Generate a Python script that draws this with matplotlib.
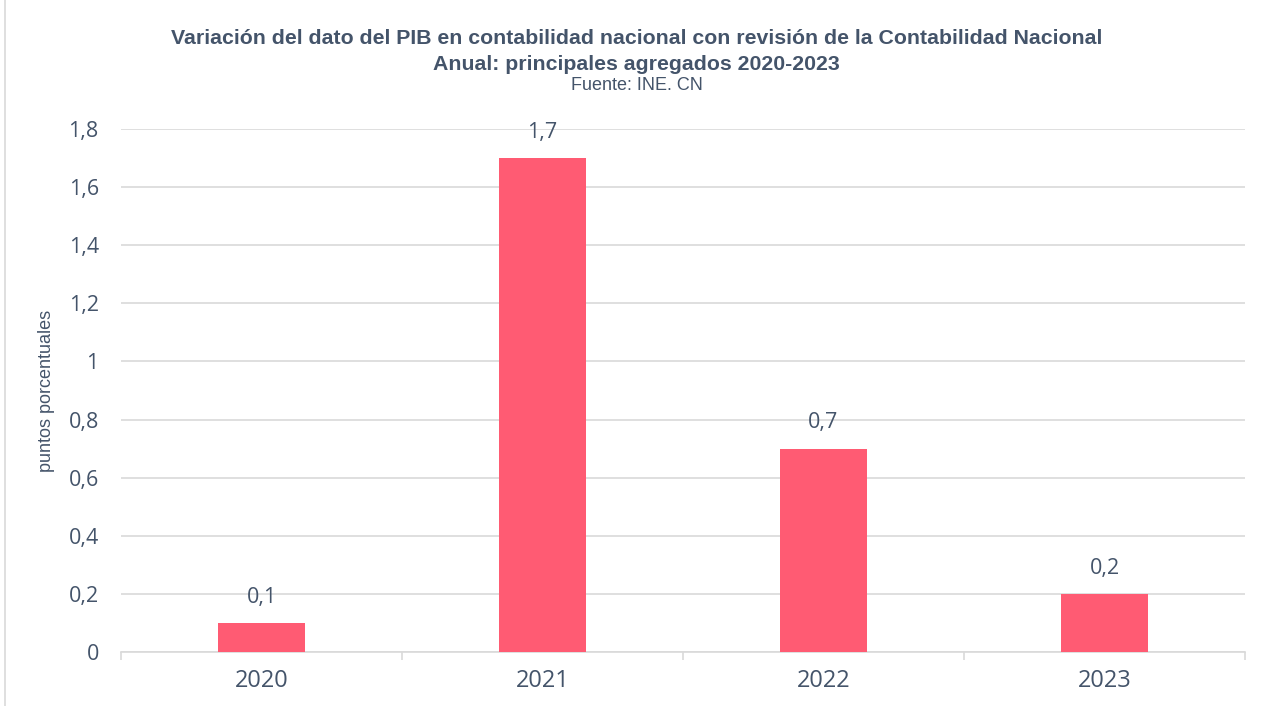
import matplotlib
matplotlib.use("Agg")
import matplotlib.pyplot as plt
from matplotlib.lines import Line2D

# data
years = ["2020", "2021", "2022", "2023"]
values = [0.1, 1.7, 0.7, 0.2]
yticks = [0, 0.2, 0.4, 0.6, 0.8, 1.0, 1.2, 1.4, 1.6, 1.8]

text_col = "#44546A"
bar_col = "#FF5B73"
grid_col = "#D9D9D9"

def fmt(v):
    s = f"{v:.1f}".replace(".", ",")
    return s[:-2] if s.endswith(",0") else s

fig = plt.figure(figsize=(12.73, 7.06), dpi=100)
ax = fig.add_axes([121 / 1273, 1 - 652 / 706, (1245 - 121) / 1273, (652 - 129) / 706])

x = range(len(years))
ax.bar(x, values, width=0.31, color=bar_col, zorder=3)
for xi, v in zip(x, values):
    ax.annotate(fmt(v), (xi, v), xytext=(0, 11), textcoords="offset points",
                ha="center", va="bottom", fontsize=15.5, color=text_col,
                family="Open Sans")

ax.set_xlim(-0.5, len(years) - 0.5)
ax.set_ylim(0, 1.8)
ax.set_yticks(yticks)
ax.set_yticklabels([fmt(t) for t in yticks], fontsize=15.5, color=text_col,
                   family="Open Sans")
ax.yaxis.grid(True, color=grid_col, lw=1.2, zorder=0)
ax.tick_params(axis="y", length=0, pad=16)

ax.set_xticks(list(x))
ax.set_xticklabels(years, fontsize=17, color=text_col, family="Open Sans")
ax.tick_params(axis="x", length=0, pad=12)
# category boundary ticks
ax.set_xticks([i - 0.5 for i in range(len(years) + 1)], minor=True)
ax.tick_params(axis="x", which="minor", length=6, width=1.2, color=grid_col, direction="out")

for s in ["top", "right", "left"]:
    ax.spines[s].set_visible(False)
ax.spines["bottom"].set_color(grid_col)
ax.spines["bottom"].set_linewidth(1.2)

ax.set_ylabel("puntos porcentuales", fontsize=13, color=text_col,
              family="Liberation Sans", labelpad=10)

fig.text(0.5, 1 - 39 / 706, "Variación del dato del PIB en contabilidad nacional con revisión de la Contabilidad Nacional",
         ha="center", va="center", fontsize=15.3, fontweight="bold", color=text_col,
         family="Liberation Sans")
fig.text(0.5, 1 - 64 / 706, "Anual: principales agregados 2020-2023",
         ha="center", va="center", fontsize=15.3, fontweight="bold", color=text_col,
         family="Liberation Sans")
fig.text(0.5, 1 - 86 / 706, "Fuente: INE. CN", ha="center", va="center",
         fontsize=13, color=text_col, family="Liberation Sans")

# left border of chart area
fig.add_artist(Line2D([5 / 1273, 5 / 1273], [0, 1], color=grid_col, lw=1.2))

fig.savefig("out.png", dpi=100)
